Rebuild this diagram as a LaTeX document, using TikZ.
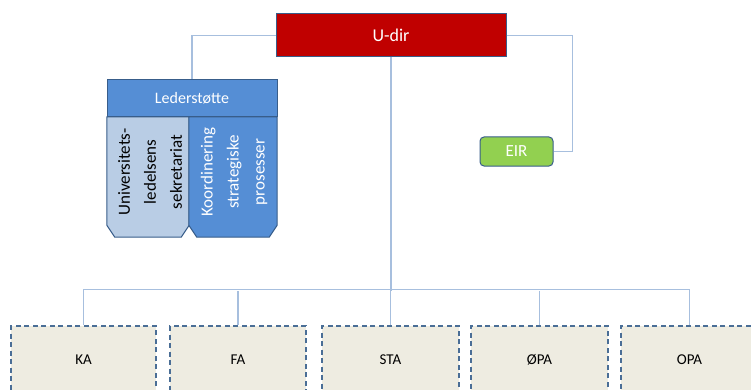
\documentclass[tikz,border=0pt]{standalone}
\usepackage{fontspec}
\setmainfont{Carlito}
\definecolor{udirred}{HTML}{C00000}
\definecolor{ledblue}{HTML}{558ED5}
\definecolor{seklight}{HTML}{B9CDE5}
\definecolor{eirgreen}{HTML}{92D050}
\definecolor{edgeblue}{HTML}{385D8A}
\definecolor{linkblue}{HTML}{A7BFDE}
\definecolor{unitgray}{HTML}{EEECE1}
\definecolor{dashblue}{HTML}{4A6E96}

\tikzset{
  head/.style={draw=edgeblue, line width=1pt, text=white, inner sep=0pt,
    font=\fontsize{16}{19}\selectfont},
  sub/.style={inner sep=0pt, minimum height=120pt},
  link/.style={draw=linkblue, line width=1.2pt},
  unit/.style={draw=dashblue, fill=unitgray, line width=1.8pt,
    dash pattern=on 5pt off 3.5pt, minimum height=68pt, inner sep=0pt,
    font=\fontsize{15}{18}\selectfont},
  vtext/.style={rotate=90, align=center, inner sep=0pt,
    font=\fontsize{17}{26}\selectfont}
}

% box with the two lower corners cut off
\newcommand\chamferbox[2]{%
  \filldraw[fill=#2, draw=edgeblue, line width=1pt]
    (#1.north west) -- (#1.north east) -- ([yshift=12pt]#1.south east)
    -- ([xshift=-8pt]#1.south east) -- ([xshift=8pt]#1.south west)
    -- ([yshift=12pt]#1.south west) -- cycle;}

\begin{document}
\begin{tikzpicture}[x=1pt, y=-1pt]
  \useasboundingbox[fill=white] (0,0) rectangle (751,390);

  \node[head, fill=udirred, minimum width=230pt, minimum height=43pt,
    font=\fontsize{18}{21}\selectfont] (udir) at (391,35.5) {U-dir};
  \node[head, fill=eirgreen, rounded corners=4pt, minimum width=73pt,
    minimum height=29pt, font=\fontsize{17}{20}\selectfont] (eir) at (516.5,151.5) {EIR};

  \node[sub, minimum width=82pt] (usek) at (148,177) {};
  \node[sub, minimum width=88pt] (koord) at (233,177) {};
  \chamferbox{usek}{seklight}
  \chamferbox{koord}{ledblue}
  \node[head, fill=ledblue, minimum width=170pt, minimum height=37pt] (leder) at (192,98.5) {Lederstøtte};

  \node[vtext] (usektxt) at (150,172) {Universitets-\\ledelsens\\sekretariat};
  \node[vtext, text=white] (koordtxt) at (234,172) {Koordinering\\strategiske\\prosesser};

  \node[unit, minimum width=145pt] (ka) at (83.5,360) {KA};
  \node[unit, minimum width=136pt] (fa) at (238,360) {FA};
  \node[unit, minimum width=137pt] (sta) at (390.5,360) {STA};
  \node[unit, minimum width=137pt] (oepa) at (539.5,360) {ØPA};
  \node[unit, minimum width=137pt] (opa) at (689.5,360) {OPA};

  \draw[link] (udir.west) -| (leder.north);
  \draw[link] (udir.east) -- ++(66,0) |- (eir.east);
  \draw[link] (udir.south) -- ++(0,233) coordinate (bus);
  \draw[link] (ka.north) -- ++(0,-36) -| (opa.north);
  \foreach \n in {fa,sta,oepa}
    \draw[link] (\n.north) -- (\n.north |- bus);
\end{tikzpicture}
\end{document}
